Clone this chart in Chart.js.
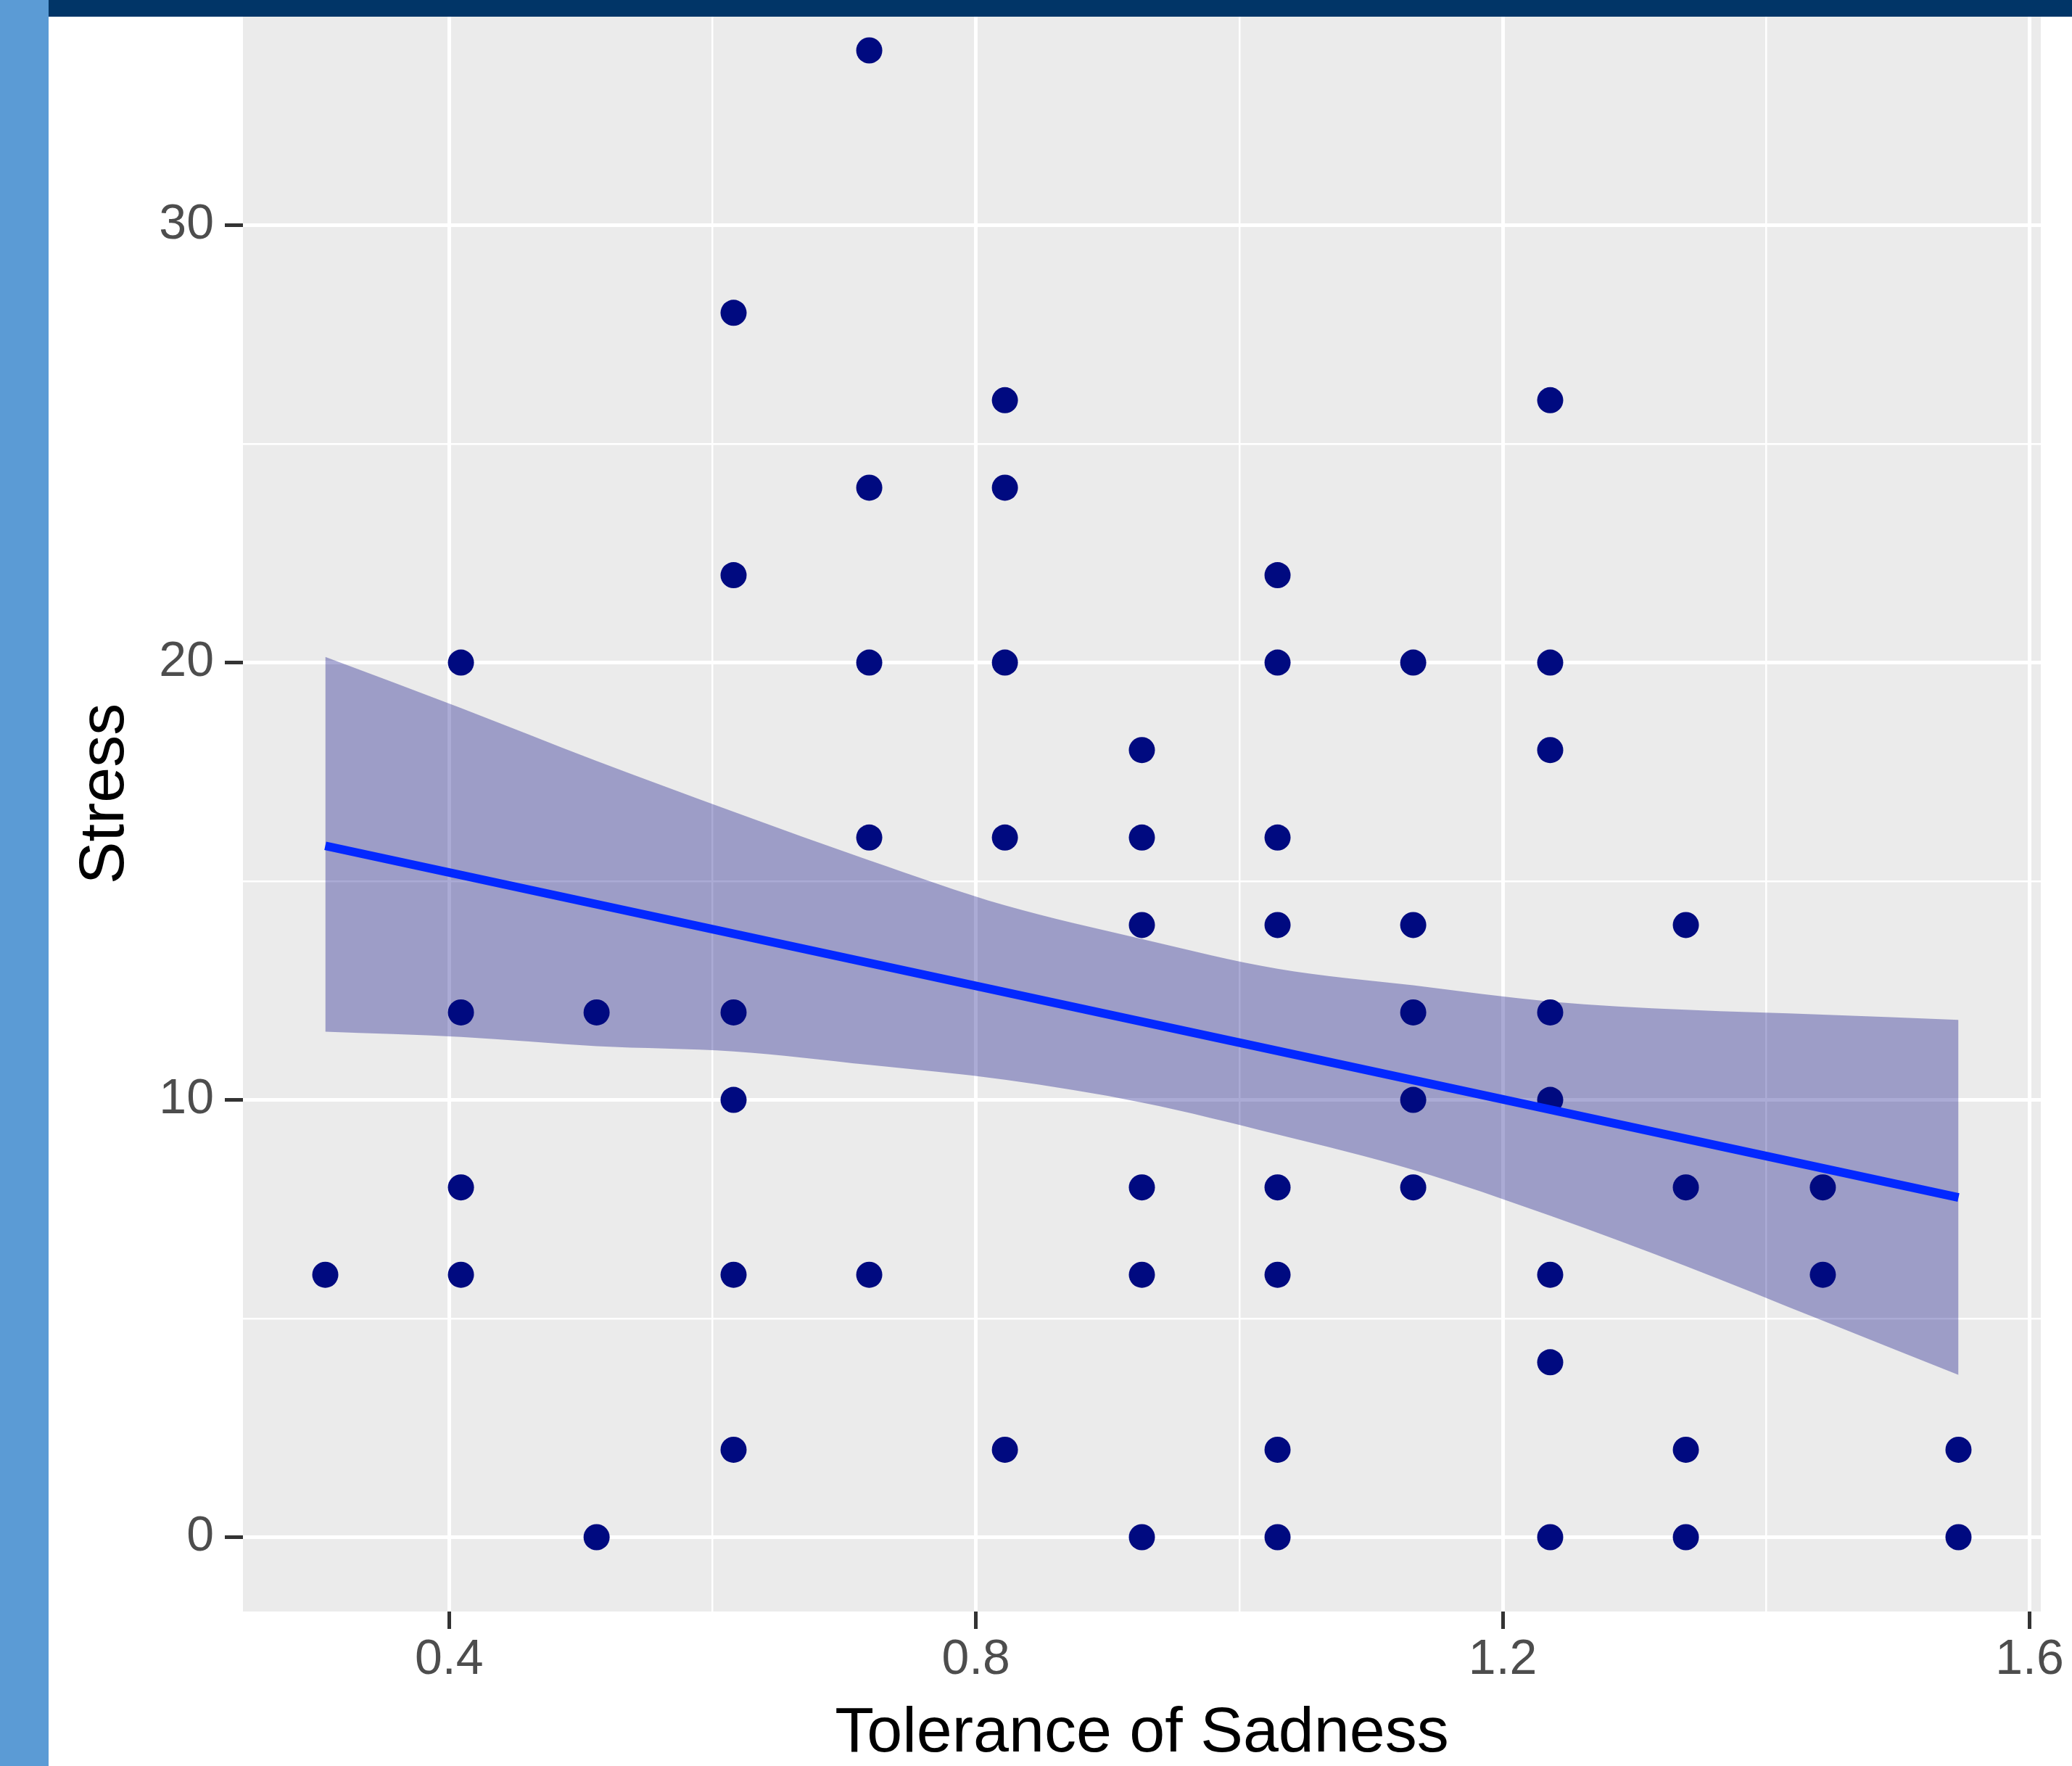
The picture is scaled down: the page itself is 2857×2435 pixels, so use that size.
<!DOCTYPE html>
<html>
<head>
<meta charset="utf-8">
<title>Stress vs Tolerance of Sadness</title>
<script src="https://cdn.jsdelivr.net/npm/chart.js@4.4.1/dist/chart.umd.min.js"></script>
<style>
    html, body { margin: 0; padding: 0; background: #ffffff; overflow: hidden; }
    body { width: 2857px; height: 2435px; position: relative; }
    #sidebar { position: absolute; left: 0; top: 0; width: 67px; height: 2435px; background: #5b9bd5; z-index: 2; }
    #topbar { position: absolute; left: 67px; top: 0; width: 2790px; height: 23px; background: #013567; z-index: 2; }
    #wrap { position: absolute; left: 67px; top: -100px; width: 2790px; height: 2535px; }
</style>
</head>
<body>
<div id="sidebar"></div>
<div id="topbar"></div>
<div id="wrap"><canvas id="scatterChart" width="2790" height="2535"></canvas></div>
<script>
// One entry per respondent: tolerance of sadness (x) and stress (y)
const tolerance = [
    0.306,
    0.409, 0.409, 0.409, 0.409,
    0.512, 0.512,
    0.616, 0.616, 0.616, 0.616, 0.616, 0.616,
    0.719, 0.719, 0.719, 0.719, 0.719,
    0.822, 0.822, 0.822, 0.822, 0.822,
    0.926, 0.926, 0.926, 0.926, 0.926, 0.926,
    1.029, 1.029, 1.029, 1.029, 1.029, 1.029, 1.029, 1.029,
    1.132, 1.132, 1.132, 1.132, 1.132,
    1.236, 1.236, 1.236, 1.236, 1.236, 1.236, 1.236, 1.236,
    1.339, 1.339, 1.339, 1.339,
    1.443, 1.443,
    1.546, 1.546
];
const stress = [
    6,
    20, 12, 8, 6,
    12, 0,
    28, 22, 12, 10, 6, 2,
    34, 24, 20, 16, 6,
    26, 24, 20, 16, 2,
    18, 16, 14, 8, 6, 0,
    22, 20, 16, 14, 8, 6, 2, 0,
    20, 14, 12, 10, 8,
    26, 20, 18, 12, 10, 6, 4, 0,
    14, 8, 2, 0,
    8, 6,
    2, 0
];

// Linear fit and its confidence band
const fitX = [0.306, 1.546];
const fitY = [15.81, 7.77];
const bandX = [0.306, 0.409, 0.512, 0.616, 0.719, 0.822, 0.926, 1.029, 1.132, 1.236, 1.339, 1.443, 1.546];
const bandUpper = [20.13, 18.96, 17.75, 16.59, 15.48, 14.45, 13.68, 13.00, 12.62, 12.25, 12.06, 11.95, 11.83];
const bandLower = [11.56, 11.44, 11.23, 11.11, 10.80, 10.46, 9.94, 9.21, 8.40, 7.35, 6.20, 4.95, 3.71];

// Axis breaks (major ones get labels and tick marks)
const xMajor = [0.4, 0.8, 1.2, 1.6];
const xMinor = [0.6, 1.0, 1.4];
const yMajor = [0, 10, 20, 30];
const yMinor = [5, 15, 25];

const FONT = "'Liberation Sans', Arial, Helvetica, sans-serif";

function toPoints(xs, ys) {
    return xs.map((x, i) => ({ x: x, y: ys[i] }));
}

function isMajor(list, v) {
    return list.some(m => Math.abs(m - v) < 1e-6);
}

function breaks(major, minor) {
    return major.concat(minor).sort((a, b) => a - b).map(v => ({ value: v }));
}

// grey panel behind the grid, like ggplot's theme_grey
const panelBackground = {
    id: "panelBackground",
    beforeDraw(chart) {
        const { ctx, chartArea } = chart;
        ctx.save();
        ctx.fillStyle = "#ebebeb";
        ctx.fillRect(chartArea.left, chartArea.top, chartArea.right - chartArea.left, chartArea.bottom - chartArea.top);
        ctx.restore();
    }
};

let ctx = document.getElementById("scatterChart").getContext("2d");
let chart = new Chart(ctx, {
    type: "scatter",
    data: {
        datasets: [
            {
                type: "line",
                label: "upper",
                data: toPoints(bandX, bandUpper),
                borderWidth: 0,
                pointRadius: 0,
                cubicInterpolationMode: "monotone",
                backgroundColor: "rgba(0, 0, 128, 0.33)",
                fill: "+1",
                order: 3
            },
            {
                type: "line",
                label: "lower",
                data: toPoints(bandX, bandLower),
                borderWidth: 0,
                pointRadius: 0,
                cubicInterpolationMode: "monotone",
                fill: false,
                order: 3
            },
            {
                label: "Stress",
                data: toPoints(tolerance, stress),
                pointRadius: 18,
                pointBorderWidth: 0,
                backgroundColor: "#000a80",
                borderColor: "#000a80",
                order: 2
            },
            {
                type: "line",
                label: "fit",
                data: toPoints(fitX, fitY),
                borderColor: "#0328ff",
                borderWidth: 12,
                pointRadius: 0,
                fill: false,
                order: 1
            }
        ]
    },
    options: {
        responsive: false,
        animation: false,
        layout: { padding: { top: 67, right: 43, left: 0, bottom: 0 } },
        plugins: {
            legend: { display: false },
            tooltip: { enabled: false }
        },
        scales: {
            x: {
                type: "linear",
                min: 0.2435,
                max: 1.6085,
                afterBuildTicks: scale => { scale.ticks = breaks(xMajor, xMinor); },
                afterFit: scale => { scale.height = 213; },
                border: { display: false },
                grid: {
                    color: "#ffffff",
                    lineWidth: c => (c.tick && isMajor(xMajor, c.tick.value)) ? 5 : 2.5,
                    tickLength: 24,
                    tickWidth: 5,
                    tickColor: c => (c.tick && isMajor(xMajor, c.tick.value)) ? "#333333" : "rgba(0,0,0,0)"
                },
                ticks: {
                    autoSkip: false,
                    maxRotation: 0,
                    padding: 2,
                    color: "#4d4d4d",
                    font: { family: FONT, size: 68 },
                    callback: v => isMajor(xMajor, v) ? v.toFixed(1) : ""
                },
                title: {
                    display: true,
                    text: "Tolerance of Sadness",
                    color: "#000000",
                    font: { family: FONT, size: 88, lineHeight: 1 },
                    padding: 0
                }
            },
            y: {
                type: "linear",
                min: -1.7,
                max: 35.7,
                afterBuildTicks: scale => { scale.ticks = breaks(yMajor, yMinor); },
                afterFit: scale => { scale.width = 268; },
                border: { display: false },
                grid: {
                    color: "#ffffff",
                    lineWidth: c => (c.tick && isMajor(yMajor, c.tick.value)) ? 5 : 2.5,
                    tickLength: 25,
                    tickWidth: 5,
                    tickColor: c => (c.tick && isMajor(yMajor, c.tick.value)) ? "#333333" : "rgba(0,0,0,0)"
                },
                ticks: {
                    autoSkip: false,
                    padding: 15,
                    color: "#4d4d4d",
                    font: { family: FONT, size: 68 },
                    callback: v => isMajor(yMajor, v) ? String(v) : ""
                },
                title: {
                    display: true,
                    text: "Stress",
                    color: "#000000",
                    font: { family: FONT, size: 88, lineHeight: 1 },
                    padding: { top: 35, bottom: 0 }
                }
            }
        }
    },
    plugins: [panelBackground]
});
</script>
</body>
</html>
